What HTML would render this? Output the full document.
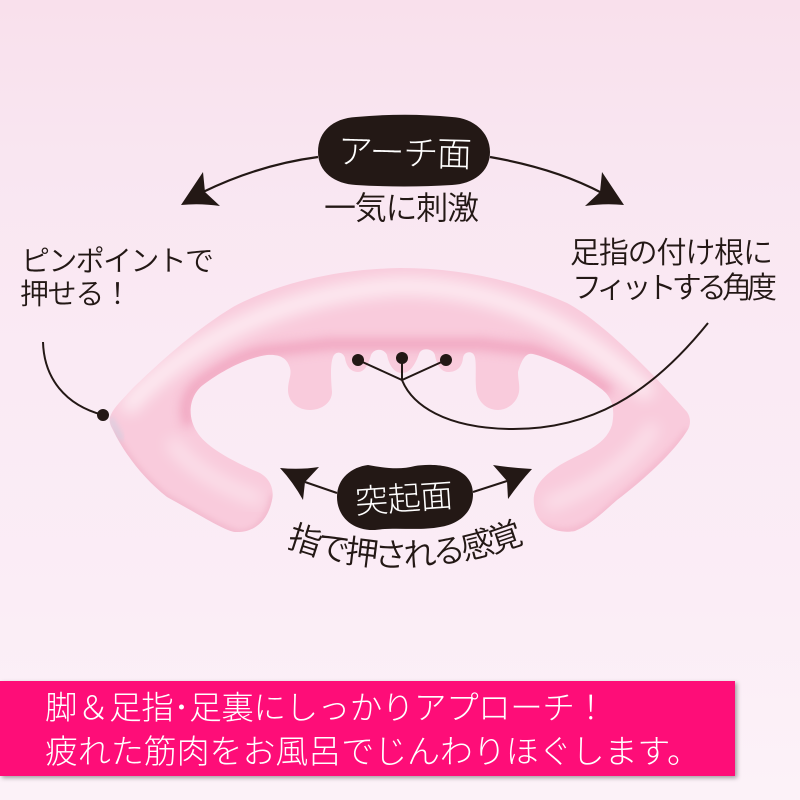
<!DOCTYPE html>
<html lang="ja"><head><meta charset="utf-8"><style>
html,body{margin:0;padding:0;width:800px;height:800px;overflow:hidden;background:#fbecf5}
svg{display:block}
text{font-family:"Liberation Sans","Noto Sans CJK JP",sans-serif;font-weight:350;fill:#231815}
.w{fill:#fff}
.t{font-weight:300}
</style></head><body>
<svg width="800" height="800" viewBox="0 0 800 800" xmlns="http://www.w3.org/2000/svg">
<defs>
<linearGradient id="bg" x1="0" y1="0" x2="0" y2="1">
<stop offset="0" stop-color="#f9e0ec"/><stop offset=".2" stop-color="#f9e6f1"/><stop offset=".45" stop-color="#faeaf4"/><stop offset=".75" stop-color="#fbedf6"/><stop offset="1" stop-color="#fcf2f8"/>
</linearGradient>
<filter id="b3" x="-20%" y="-20%" width="140%" height="140%"><feGaussianBlur stdDeviation="3"/></filter>
<filter id="b5" x="-20%" y="-20%" width="140%" height="140%"><feGaussianBlur stdDeviation="5"/></filter>
<filter id="b8" x="-20%" y="-20%" width="140%" height="140%"><feGaussianBlur stdDeviation="8"/></filter>
<filter id="sh" x="-5%" y="-10%" width="110%" height="125%"><feDropShadow dx="2" dy="2" stdDeviation="2" flood-color="#000" flood-opacity=".35"/></filter>
<path id="dev" d="M110 417C113 408 122 400 133 388C160 362 195 330 233 307C280 282 340 269 400 268C460 268 515 280 567 303C600 320 650 370 687 412C691 418 691 425 687 431C675 450 650 475 617 500C600 515 590 525 575 531C560 534 540 528 535 510C530 490 540 478 560 465C580 453 605 447 612 425C616 405 610 395 600 388C580 372 550 358 533 354C525 352 521 362 518 372C518 380 520 385 519 392C517 403 507 410 498 410C487 410 477 402 476 388C475 375 477 360 474 355C472 351 464 351 463 358C462 368 456 372 448 372C440 372 436 362 435 355C433 348 421 347 419 354C415 365 410 373 402 373C394 373 389 365 387 355C384 348 374 348 371 355C368 366 364 372 358 372C350 372 346 365 345 358C343 351 335 351 333 357C330 365 331 380 332 392C332 403 321 410 310 410C298 410 288 402 288 390C288 380 292 375 290 368C287 358 280 354 267 355C245 358 220 372 203 385C190 395 186 415 197 432C205 445 225 458 260 473C272 480 274 492 272 500C268 520 255 533 235 532C225 531 200 515 167 497C145 480 125 455 113 430C110 425 109 421 110 417Z"/>
<clipPath id="clip"><use href="#dev"/></clipPath>
<path id="arc" d="M286 546Q405 590 530 540"/>
</defs>
<rect width="800" height="800" fill="url(#bg)"/>

<use href="#dev" fill="#f9cbdc"/>
<g clip-path="url(#clip)">
<path d="M610 392C585 372 552 358 533 350L480 344L330 344L267 351C245 354 220 368 199 384C186 395 183 412 190 425" fill="none" stroke="#ee9ab7" stroke-width="12" filter="url(#b5)" opacity=".7"/>
<path d="M125 410C185 340 290 292 400 286C490 286 570 318 650 395" fill="none" stroke="#fff" stroke-width="16" filter="url(#b8)" opacity=".7"/>
<path d="M170 440C190 470 230 490 262 500" fill="none" stroke="#fff" stroke-width="12" filter="url(#b8)" opacity=".5"/>
<path d="M545 505C590 490 630 465 655 425" fill="none" stroke="#fff" stroke-width="12" filter="url(#b8)" opacity=".5"/>
<path d="M113 430C125 455 145 480 167 497C200 515 225 531 240 533C258 533 270 515 273 495" fill="none" stroke="#e89bb5" stroke-width="4" filter="url(#b3)" opacity=".5"/>
<path d="M540 525C560 536 580 532 600 515C640 480 670 455 688 430" fill="none" stroke="#ee9fb9" stroke-width="4" filter="url(#b3)" opacity=".5"/>
<path d="M110 418L122 440" fill="none" stroke="#d8cfe0" stroke-width="5" filter="url(#b3)"/>
</g>

<g fill="none" stroke="#231815" stroke-width="2">
<path d="M318 157C280 162 240 174 203 192" stroke-width="2.2"/>
<path d="M490 157C530 164 570 176 602 193" stroke-width="2.2"/>
<path d="M43 342C44 378 65 405 103 415"/>
<path d="M358 360L402 380L446 360M402 358V380C412 405 445 428 510 429C590 430 650 395 708 323"/>
<path d="M337 493L305 482M473 492L507 481"/>
</g>
<g fill="#231815">
<path d="M181 205L203 172L205 192L220 206Q200 203 181 205Z"/>
<path d="M624 205L602 172L600 192L585 206Q605 203 624 205Z"/>
<path d="M280 468Q300 470 319 467L305 482L303 500Q293 482 280 468Z"/>
<path d="M532 469Q512 468 493 465L507 481L508 499Q520 482 532 469Z"/>
<circle cx="103" cy="415" r="6"/><circle cx="358" cy="360" r="6"/><circle cx="402" cy="358" r="6"/><circle cx="446" cy="360" r="6"/>
<path d="M318 152C318 130 335 118 356 117C390 114 420 114 452 117C473 118 490 132 490 152C490 172 473 184 452 185C420 187 388 187 356 185C335 184 318 172 318 152Z"/>
<path d="M337 497C337 478 352 467 368 465C385 468 400 470 415 466C432 463 473 464 473 494C473 515 455 525 440 527C420 531 395 527 375 530C352 531 337 516 337 497Z"/>
</g>

<text class="w t" transform="rotate(1.5 405 152)" x="338" y="165" font-size="35" textLength="134">アーチ面</text>
<text x="324" y="219" font-size="32" textLength="155">一気に刺激</text>
<text x="21" y="271" font-size="29" textLength="193">ピンポイントで</text>
<text x="20" y="304" font-size="29" textLength="112">押せる！</text>
<text x="570" y="263" font-size="30" textLength="203">足指の付け根に</text>
<text x="572" y="298" font-size="30" textLength="205">フィットする角度</text>
<text class="w t" transform="rotate(-4 405 497)" x="355" y="510" font-size="33" textLength="98">突起面</text>
<text font-size="33"><textPath href="#arc" textLength="244">指で押される感覚</textPath></text>

<rect x="0" y="681" width="735" height="95" fill="#fe0f78" filter="url(#sh)"/>
<text class="w t" x="45" y="719" font-size="32.5" textLength="562">脚＆足指･足裏にしっかりアプローチ！</text>
<text class="w t" x="45" y="763" font-size="33" textLength="655">疲れた筋肉をお風呂でじんわりほぐします。</text>
</svg>
</body></html>
